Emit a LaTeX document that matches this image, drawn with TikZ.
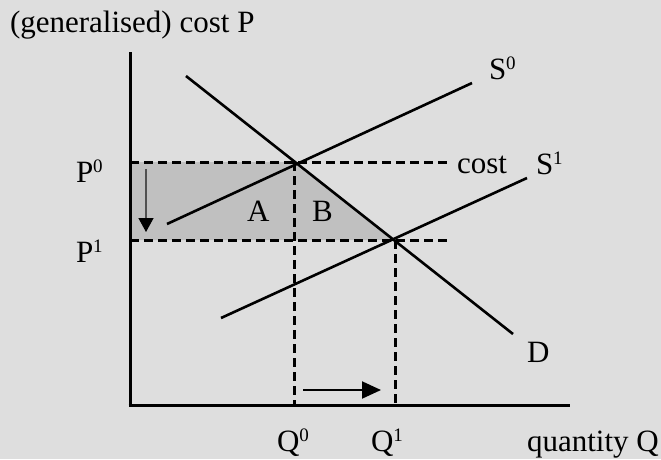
\documentclass[tikz,border=0pt]{standalone}
\usepackage{fontspec}
\setmainfont{Liberation Serif}
\usetikzlibrary{arrows.meta}
\definecolor{bgcol}{RGB}{222,222,222}
\definecolor{shadecol}{RGB}{192,192,192}
\definecolor{thingray}{RGB}{80,80,80}
\newcommand\supr[1]{\raisebox{10pt}{\fontsize{19}{19}\selectfont #1}}
\begin{document}
\begin{tikzpicture}[x=1pt,y=-1pt,
  lbl/.style={inner sep=0pt,outer sep=0pt,font=\fontsize{31}{36}\selectfont,anchor=base west},
  axisline/.style={line width=3pt},
  curve/.style={line width=2.6pt},
  dashline/.style={line width=3pt,dash pattern=on 9pt off 5pt}]
\useasboundingbox[fill=bgcol] (0,0) rectangle (661,459);
% key points
\coordinate (O) at (130,405);
\coordinate (Ytop) at (130,52);
\coordinate (Xend) at (570,405);
\coordinate (E0) at (294,162);
\coordinate (E1) at (395,240);
\coordinate (P0) at (130,162);
\coordinate (P1) at (130,240);
\coordinate (P0end) at (448,162);
\coordinate (P1end) at (450,240);
\coordinate (Q0) at (294,405);
\coordinate (Q1) at (395,405);
\coordinate (S0a) at (167,224);
\coordinate (S0b) at (472,83);
\coordinate (S1a) at (221,318);
\coordinate (S1b) at (527,178);
\coordinate (Da) at (186,76);
\coordinate (Db) at (513,334);
\coordinate (ArrDa) at (146,169);
\coordinate (ArrDb) at (146,232);
\coordinate (ArrRa) at (303,390);
\coordinate (ArrRb) at (381,390);
% shaded area
\fill[shadecol] (P0) -- (E0) -- (E1) -- (P1) -- cycle;
% dashed lines
\draw[dashline] (P0) -- (P0end);
\draw[dashline] (P1) -- (P1end);
\draw[dashline] (E0) -- (Q0);
\draw[dashline] (E1) -- (Q1);
% axes
\draw[axisline] (Ytop) -- ([yshift=1.5pt]O) ;
\draw[axisline] ([xshift=-1.5pt]O) -- (Xend);
% curves
\draw[curve] (S0a) -- (S0b);
\draw[curve] (S1a) -- (S1b);
\draw[curve] (Da) -- (Db);
% arrows
\draw[line width=1.4pt,thingray,-{Triangle[width=15pt,length=14pt,black]}] (ArrDa) -- (ArrDb);
\draw[line width=2pt,-{Triangle[width=17pt,length=19pt]}] (ArrRa) -- (ArrRb);
% labels
\node[lbl] (title) at (10,32) {(generalised) cost P};
\node[lbl] (lP0) at (76,182) {P\supr{0}};
\node[lbl] (lP1) at (76,262) {P\supr{1}};
\node[lbl] (lA) at (247,221) {A};
\node[lbl] (lB) at (312,221) {B};
\node[lbl] (lQ0) at (277,451) {Q\supr{0}};
\node[lbl] (lQ1) at (371,451) {Q\supr{1}};
\node[lbl] (lQ) at (527,451) {quantity Q};
\node[lbl] (lD) at (527,362) {D};
\node[lbl] (lS0) at (489,79) {S\supr{0}};
\node[lbl] (lcost) at (457,173) {cost};
\node[lbl] (lS1) at (536,174) {S\supr{1}};
\end{tikzpicture}
\end{document}
